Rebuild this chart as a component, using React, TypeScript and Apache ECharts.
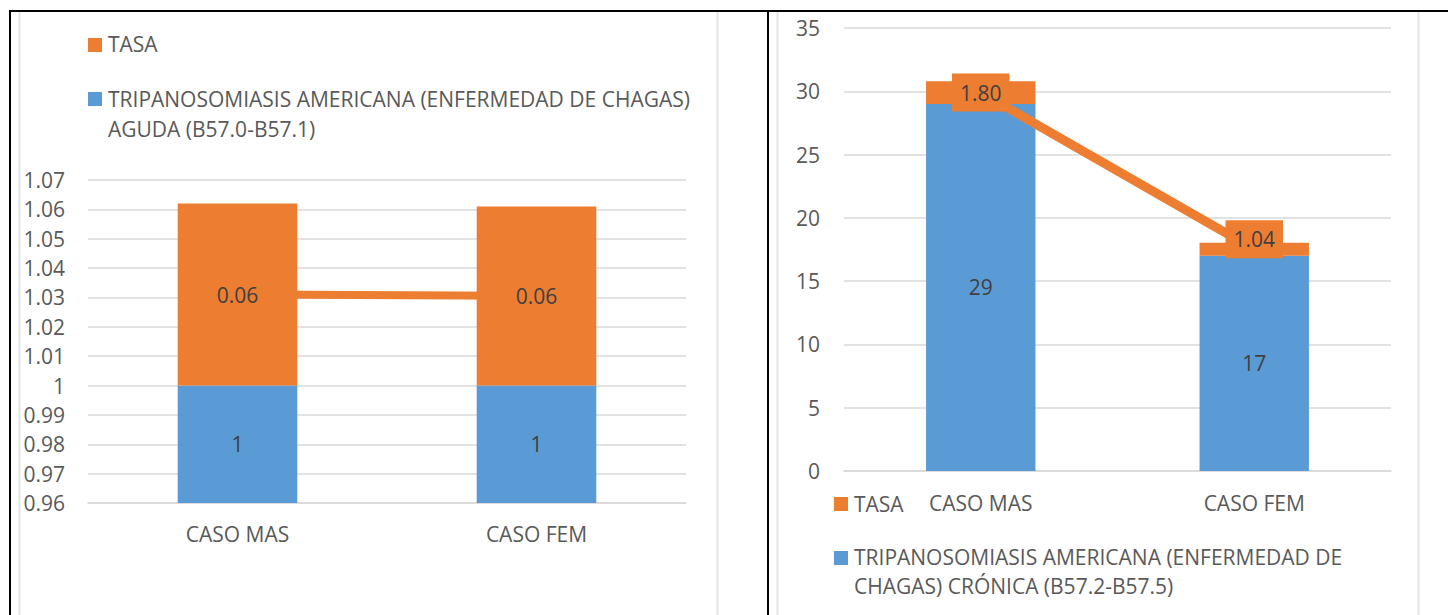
import React, { useEffect, useRef } from "react";
import * as echarts from "echarts";

const categories = ["CASO MAS", "CASO FEM"];
const agudaCasos = [1, 1];
const agudaTasa = [0.062, 0.061];
const cronicaCasos = [29, 17];
const cronicaTasa = [1.8, 1.04];

const legendTasa = "TASA";
const legendAguda = "TRIPANOSOMIASIS AMERICANA (ENFERMEDAD DE CHAGAS)\nAGUDA (B57.0-B57.1)";
const legendCronica = "TRIPANOSOMIASIS AMERICANA (ENFERMEDAD DE\nCHAGAS) CRÓNICA (B57.2-B57.5)";

const BLUE = "#5B9BD5";
const ORANGE = "#ED7D31";
const FONT = "Open Sans";
const FS = 21;
const GRID_COLOR = "#d9d9d9";

export default function App() {
  const ref = useRef<HTMLDivElement>(null);
  useEffect(() => {
    if (!ref.current) return;
    const chart = echarts.init(ref.current, null, { renderer: "svg" });
    const mid = (base: number[], top: number[]) => base.map((b, i) => b + top[i] / 2);
    const yLabel = {
      color: "#595959",
      fontFamily: FONT,
      fontSize: FS,
    };
    const xLabel = {
      color: "#595959",
      fontFamily: FONT,
      fontSize: FS,
      lineHeight: 24,
    };
    const dataLabel = {
      color: "#404040",
      fontFamily: FONT,
      fontSize: FS,
    };
    const legendText = (x: number, y: number, text: string, lh: number) => ({
      type: "text",
      x,
      y,
      style: {
        text,
        fill: "#595959",
        font: `${FS}px "${FONT}"`,
        lineHeight: lh,
        verticalAlign: "top",
        align: "left",
      },
    });
    const vline = (x: number, color: string, w: number, y1: number) => ({
      type: "line",
      shape: { x1: x, y1, x2: x, y2: 615 },
      style: { stroke: color, lineWidth: w },
      silent: true,
    });
    const cronicaLine = mid(cronicaCasos, cronicaTasa).map((v, i) =>
      i === 1 ? { value: v, label: { offset: [0, -10] } } : v
    );
    chart.setOption({
      animation: false,
      grid: [
        { left: 88, top: 180, width: 598, height: 323 },
        { left: 844, top: 28, width: 547, height: 443 },
      ],
      xAxis: [0, 1].map((g) => ({
        type: "category",
        gridIndex: g,
        data: categories,
        axisTick: { show: false },
        axisLine: { lineStyle: { color: GRID_COLOR, width: 1.5 } },
        axisLabel: { ...xLabel, margin: g === 0 ? 19 : 20 },
      })),
      yAxis: [
        {
          type: "value",
          gridIndex: 0,
          min: 0.96,
          max: 1.07,
          interval: 0.01,
          axisLine: { show: false },
          axisTick: { show: false },
          splitLine: { lineStyle: { color: GRID_COLOR, width: 1.5 } },
          axisLabel: {
            ...yLabel,
            margin: 23,
            formatter: (v: number) => String(parseFloat(v.toFixed(2))),
          },
        },
        {
          type: "value",
          gridIndex: 1,
          min: 0,
          max: 35,
          interval: 5,
          axisLine: { show: false },
          axisTick: { show: false },
          splitLine: { lineStyle: { color: GRID_COLOR, width: 1.5 } },
          axisLabel: { ...yLabel, margin: 24 },
        },
      ],
      series: [
        {
          name: legendAguda,
          type: "bar",
          xAxisIndex: 0,
          yAxisIndex: 0,
          stack: "a",
          barWidth: "40%",
          data: agudaCasos,
          itemStyle: { color: BLUE },
          label: { show: true, position: "inside", ...dataLabel },
          z: 2,
        },
        {
          name: legendTasa,
          type: "bar",
          xAxisIndex: 0,
          yAxisIndex: 0,
          stack: "a",
          barWidth: "40%",
          data: agudaTasa,
          itemStyle: { color: ORANGE },
          z: 2,
        },
        {
          name: legendTasa + " (línea)",
          type: "line",
          xAxisIndex: 0,
          yAxisIndex: 0,
          data: mid(agudaCasos, agudaTasa),
          symbol: "circle",
          symbolSize: 2,
          itemStyle: { color: ORANGE },
          lineStyle: { color: ORANGE, width: 8 },
          label: {
            show: true,
            position: "inside",
            ...dataLabel,
            lineHeight: 22,
            backgroundColor: ORANGE,
            padding: [8, 8],
            formatter: (p: any) => agudaTasa[p.dataIndex].toFixed(2),
          },
          z: 3,
        },
        {
          name: legendCronica,
          type: "bar",
          xAxisIndex: 1,
          yAxisIndex: 1,
          stack: "c",
          barWidth: "40%",
          data: cronicaCasos,
          itemStyle: { color: BLUE },
          label: { show: true, position: "inside", ...dataLabel },
          z: 2,
        },
        {
          name: legendTasa + " ",
          type: "bar",
          xAxisIndex: 1,
          yAxisIndex: 1,
          stack: "c",
          barWidth: "40%",
          data: cronicaTasa,
          itemStyle: { color: ORANGE },
          z: 2,
        },
        {
          name: legendTasa + " (línea) ",
          type: "line",
          xAxisIndex: 1,
          yAxisIndex: 1,
          data: cronicaLine,
          symbol: "circle",
          symbolSize: 2,
          itemStyle: { color: ORANGE },
          lineStyle: { color: ORANGE, width: 9 },
          label: {
            show: true,
            position: "inside",
            ...dataLabel,
            lineHeight: 22,
            backgroundColor: ORANGE,
            padding: [8, 8],
            formatter: (p: any) => cronicaTasa[p.dataIndex].toFixed(2),
          },
          z: 3,
        },
      ],
      graphic: [
        vline(19.5, "#e3e3e3", 2, 12),
        vline(717.5, "#e3e3e3", 2, 12),
        vline(777.5, "#e3e3e3", 2, 12),
        vline(1418.5, "#e3e3e3", 2, 12),
        {
          type: "line",
          shape: { x1: 9, y1: 11, x2: 1448, y2: 11 },
          style: { stroke: "#000", lineWidth: 2 },
        },
        vline(10, "#000", 2, 10),
        vline(768, "#000", 2, 10),
        { type: "rect", shape: { x: 88, y: 38, width: 14, height: 14 }, style: { fill: ORANGE } },
        legendText(108, 44 - 15, legendTasa, 30),
        { type: "rect", shape: { x: 88, y: 92, width: 14, height: 14 }, style: { fill: BLUE } },
        legendText(108, 98.5 - 15, legendAguda, 30),
        { type: "rect", shape: { x: 834, y: 497, width: 14, height: 14 }, style: { fill: ORANGE } },
        legendText(854, 504 - 14.5, legendTasa, 29),
        { type: "rect", shape: { x: 834, y: 551, width: 14, height: 14 }, style: { fill: BLUE } },
        legendText(854, 556.5 - 14.5, legendCronica, 29),
      ],
    });
    return () => chart.dispose();
  }, []);
  return (
    <div
      ref={ref}
      style={{ position: "absolute", left: 0, top: 0, width: 1448, height: 615, background: "#fff" }}
    />
  );
}
